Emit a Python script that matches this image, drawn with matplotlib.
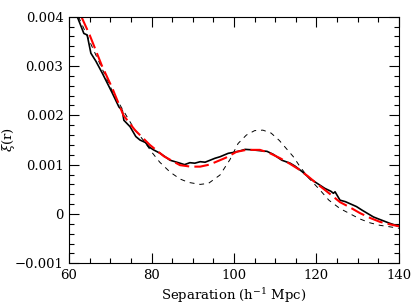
import matplotlib
matplotlib.use("Agg")
import matplotlib.pyplot as plt
from matplotlib.ticker import MultipleLocator, FuncFormatter

# Measured correlation function (black solid, noisy)
meas_x = [62.0, 63.6, 64.4, 65.3, 66.5, 68.1, 70.5, 72.1, 72.9, 73.3, 74.8, 76.2,
          77.2, 78.5, 79.4, 80.5, 82.1, 84.5, 86.9, 88.0, 89.3, 90.5, 91.8, 93.0,
          95.4, 96.6, 98.6, 100.0, 101.5, 102.7, 104.5, 106.7, 108.0, 109.5, 111.6,
          113.6, 114.8, 116.5, 118.4, 120.0, 122.0, 123.5, 124.1, 124.5, 125.7,
          127.0, 129.7, 131.0, 133.8, 135.0, 137.8, 140.0]
meas_y = [0.00400, 0.00366, 0.00363, 0.00326, 0.00310, 0.00285, 0.00245, 0.00217,
          0.00210, 0.00190, 0.00177, 0.00157, 0.00150, 0.00145, 0.00136, 0.00130,
          0.00123, 0.00109, 0.00103, 0.00100, 0.00104, 0.00103, 0.00106, 0.00105,
          0.00113, 0.00116, 0.00123, 0.00125, 0.00128, 0.00131, 0.00130, 0.00128,
          0.00127, 0.00121, 0.00109, 0.00103, 0.00097, 0.00086, 0.00072, 0.00063,
          0.00052, 0.00046, 0.00042, 0.00045, 0.00028, 0.00025, 0.00015, 0.00008,
          -0.00006, -0.00010, -0.00019, -0.00025]

# Best-fit model (red dashed)
fit_x = [63.0, 65.0, 68.0, 70.5, 73.2, 76.0, 79.6, 83.0, 86.9, 89.5, 91.8, 94.0,
         96.6, 98.0, 100.6, 103.0, 104.3, 106.3, 108.5, 111.2, 113.5, 116.0, 118.0,
         120.0, 122.0, 124.1, 125.7, 128.0, 130.5, 133.0, 135.4, 137.8, 140.0]
fit_y = [0.00400, 0.00363, 0.00300, 0.00255, 0.00200, 0.00170, 0.00140, 0.00117,
         0.00099, 0.00096, 0.00096, 0.00100, 0.00109, 0.00114, 0.00126, 0.00130,
         0.00130, 0.00130, 0.00124, 0.00113, 0.00102, 0.00089, 0.00076, 0.00062,
         0.00049, 0.00035, 0.00024, 0.00014, 0.00002, -0.00008, -0.00016, -0.00021,
         -0.00025]

# Linear-theory model (thin black dashed)
lin_x = [62.3, 65.0, 68.0, 71.0, 74.0, 76.0, 78.0, 80.0, 82.0, 84.5, 86.9, 89.0,
         91.8, 93.8, 96.6, 99.0, 101.0, 103.0, 105.0, 107.0, 109.0, 111.0, 114.4,
         116.0, 118.0, 120.8, 123.0, 125.7, 128.0, 130.5, 133.0, 135.4, 137.8, 140.0]
lin_y = [0.00400, 0.00350, 0.00295, 0.00240, 0.00198, 0.00170, 0.00150, 0.00126,
         0.00105, 0.00085, 0.00071, 0.00064, 0.00060, 0.00062, 0.00079, 0.00110,
         0.00143, 0.00160, 0.00169, 0.00170, 0.00164, 0.00149, 0.00116, 0.00096,
         0.00074, 0.00049, 0.00028, 0.00011, 0.00001, -0.00010, -0.00018, -0.00023,
         -0.00026, -0.00029]

plt.rcParams['font.family'] = ['DejaVu Serif']
plt.rcParams['mathtext.fontset'] = 'dejavuserif'

fig = plt.figure(figsize=(4.15, 3.08), dpi=100)
ax = fig.add_axes([0.1663, 0.1451, 0.7951, 0.8007])

ax.plot(lin_x, lin_y, color='black', lw=0.7, dashes=(5, 5))
ax.plot(meas_x, meas_y, color='black', lw=1.2)
ax.plot(fit_x, fit_y, color='#ff0000', lw=1.5, dashes=(7, 2.5))

ax.set_xlim(60, 140)
ax.set_ylim(-0.001, 0.004)
ax.xaxis.set_major_locator(MultipleLocator(20))
ax.xaxis.set_minor_locator(MultipleLocator(5))
ax.yaxis.set_major_locator(MultipleLocator(0.001))
ax.yaxis.set_minor_locator(MultipleLocator(0.0002))

def yfmt(v, pos):
    if abs(v) < 1e-12:
        return '0'
    s = '%.3f' % v
    return s.replace('-', '\u2212')

ax.yaxis.set_major_formatter(FuncFormatter(yfmt))
ax.tick_params(which='both', direction='in', top=True, right=True,
               labelsize=9.5, width=0.8)
ax.tick_params(which='major', length=7, pad=4)
ax.tick_params(which='minor', length=3.5)
for sp in ax.spines.values():
    sp.set_linewidth(0.8)

ax.set_xlabel(r'Separation (h$^{-1}$ Mpc)', fontsize=9.5, labelpad=3)
ax.set_ylabel(r'$\xi$(r)', fontsize=9.5)
# anchor the y label so that its text sits about 3-16 px from the figure edge
ax.yaxis.set_label_coords(-(69 - 17) / 330.0, 0.5)

fig.savefig('out.png', dpi=100)
